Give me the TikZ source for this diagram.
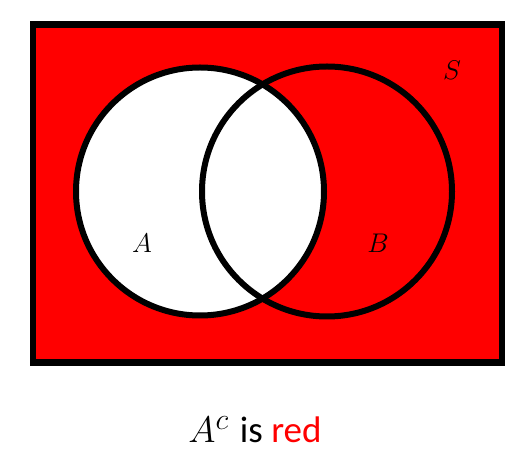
\documentclass[tikz,border=0pt]{standalone}
\usepackage{fix-cm}
\usepackage{fontspec}
\newfontfamily\capfont{Carlito}
\definecolor{vred}{RGB}{255,0,0}
\begin{document}
\begin{tikzpicture}[x=1pt,y=-1pt,
  setlabel/.style={font=\fontsize{27}{30}\selectfont, inner sep=0pt},
  ring/.style={draw=black, line width=6pt}]
\useasboundingbox (0,0) rectangle (520,462);
% universe
\node[draw=black, line width=6.5pt, fill=vred, minimum width=469pt, minimum height=338pt, inner sep=0pt, anchor=north west] (S) at (29.5,21.5) {};
% circle A filled white
\node[circle, fill=white, minimum size=248pt, inner sep=0pt] (Afill) at (200,191.5) {};
\node[circle, ring, minimum size=248pt, inner sep=0pt] (A) at (200,191.5) {};
\node[circle, ring, minimum size=250pt, inner sep=0pt] (B) at (327,191.5) {};
% labels
\node[setlabel] (lS) at (452,70) {$S$};
\node[setlabel] (lA) at (142,243) {$A$};
\node[setlabel] (lB) at (378,243) {$B$};
\node[anchor=base, inner sep=0pt, font=\fontsize{37}{40}\selectfont] (cap) at (255,443) {$A^{\mbox{\fontsize{30}{30}\selectfont$c$}}$ \capfont is \textcolor{vred}{red}};
\end{tikzpicture}
\end{document}
